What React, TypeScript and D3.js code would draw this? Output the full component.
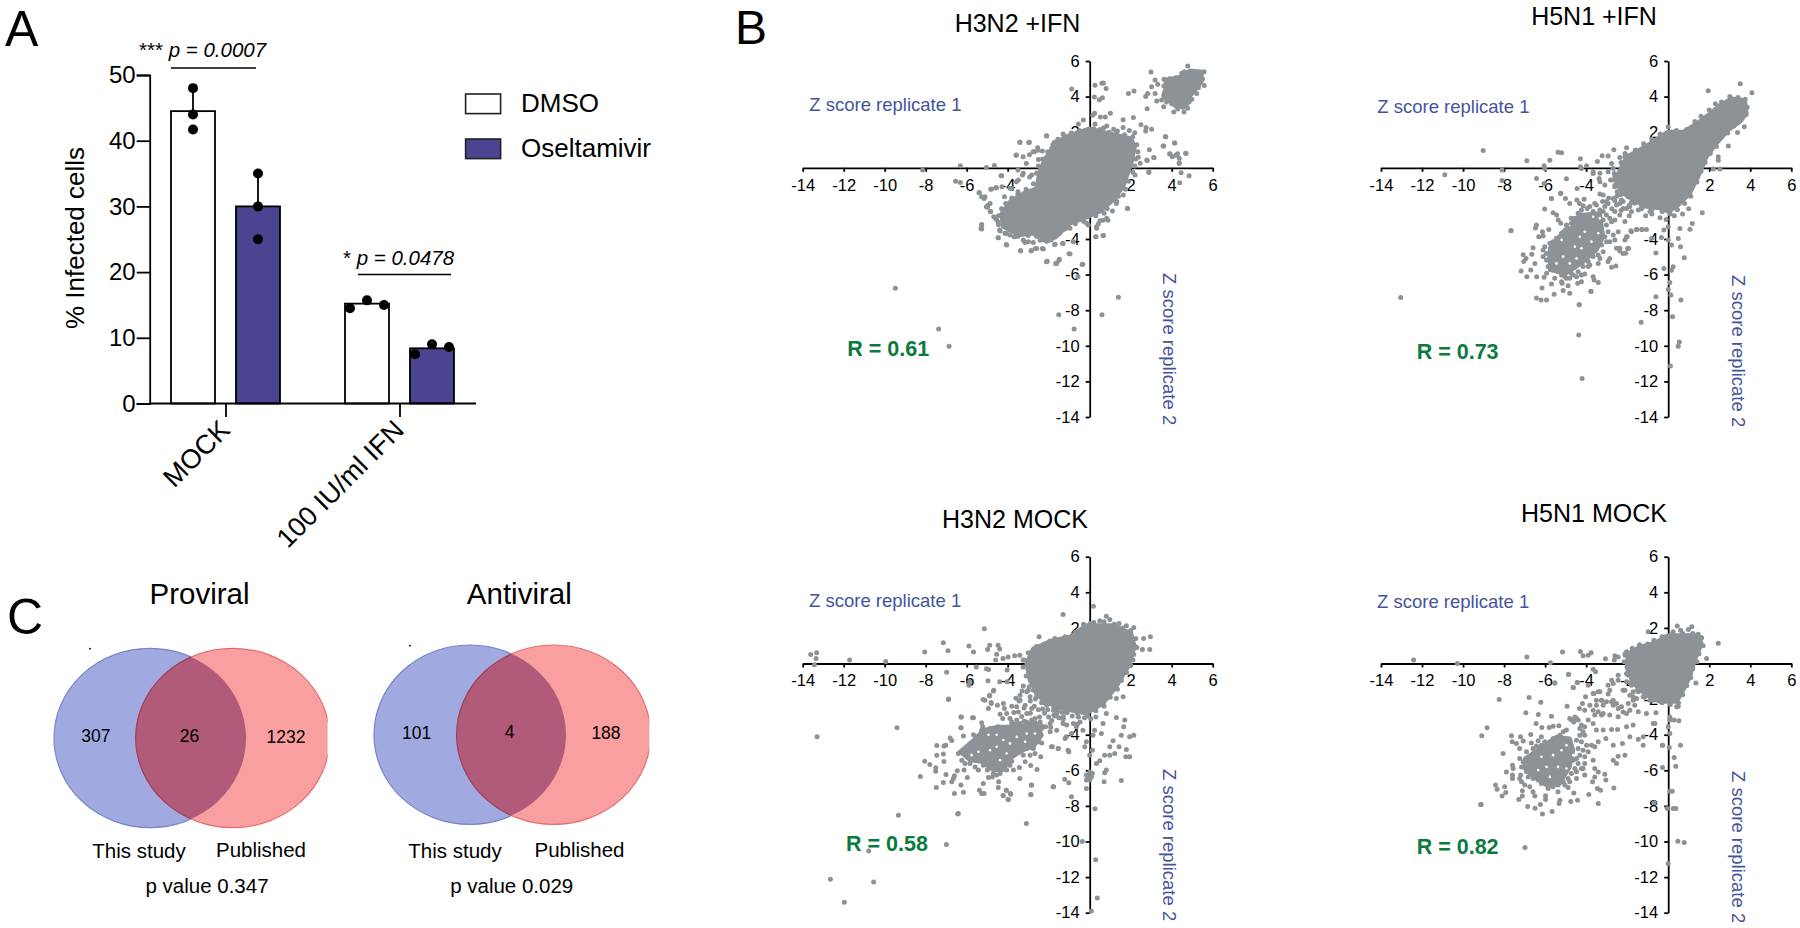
import React, { useEffect, useRef } from 'react';
import * as d3 from 'd3';

type Pt = [number, number];

// Panel A values
const infectionGroups = ['MOCK', '100 IU/ml IFN'];
const treatments = ['DMSO', 'Oseltamivir'];
const barMeans = [[44.5, 30], [15.2, 8.4]];
const barUpper = [[47.9, 35], [15.7, 9.1]];
const replicateDots = [
  [[48, 0], [44, 0], [41.7, 0]],
  [[35, 0], [30, 0], [25, 0]],
  [[14.5, -17], [15.7, 0], [15, 17]],
  [[7.5, -17], [9, 0], [8.6, 17]],
];
const percentTicks = [0, 10, 20, 30, 40, 50];
const zTicks = [-14, -12, -10, -8, -6, -4, -2, 2, 4, 6];

// Where the dots merge into solid grey they can't be told apart, so those
// zones are kept as traced outlines and only the separable dots are listed.
const h3n2IfnCore: Pt[] = [[-1.22,1.74],[0,2.21],[.65,2.02],[2.03,1.65],[2.2,1.18],[2.03,.24],[1.63,-1.07],[1.14,-1.82],[.49,-2.47],[-.08,-2.75],[-.98,-3.13],[-1.63,-3.88],[-2.11,-4.16],[-2.76,-3.69],[-3.41,-3.78],[-4.23,-3.31],[-4.31,-2.57],[-3.9,-1.91],[-3.25,-1.44],[-2.6,-1.16],[-2.44,-.13],[-2.11,.62],[-1.63,1.37]];
const h3n2IfnCluster: Pt[] = [[3.71,4.93],[4.41,5.12],[4.89,5.46],[5.46,5.4],[5.46,4.84],[5.22,4.47],[4.93,4.09],[4.73,3.53],[4.24,3.4],[3.84,3.81],[3.59,4.09],[3.71,4.47]];
const h3n2IfnRim: Pt[] = [[-1.3,1.9],[-.9,1.95],[-.5,2.1],[.2,2.2],[.5,2.15],[.95,2],[1.3,1.95],[1.7,1.85],[2.1,1.75],[2.3,1.3],[2.35,.9],[2.25,.5],[2.2,.1],[2.1,-.25],[1.9,-.75],[1.75,-1.2],[1.4,-1.6],[1.3,-2],[.85,-2.3],[.7,-2.55],[.3,-2.7],[-.3,-3],[-.7,-3.15],[-1.2,-3.4],[-1.5,-3.7],[-1.9,-4.05],[-2.4,-4.05],[-2.6,-3.85],[-3,-3.8],[-3.5,-3.85],[-3.9,-3.5],[-4.45,-3.2],[-4.45,-2.7],[-4.3,-2.3],[-4.1,-2],[-3.8,-1.7],[-3.5,-1.5],[-3.1,-1.2],[-2.75,-.9],[-2.6,-.3],[-2.5,.1],[-2.3,.5],[-2.05,.9],[-1.8,1.3],[-1.55,1.6],[3.7,4.95],[3.9,5],[3.62,4.6],[3.75,4.2],[3.62,3.95],[3.75,3.7],[4,3.6],[4.3,3.3],[4.55,3.4],[4.85,3.7],[5,4.2],[5.3,4.5],[5.5,5],[5.2,5.3],[4.2,5.05],[4.6,5.25]];
const h3n2IfnDots: Pt[] = [[2.99,5.38],[-.88,4.43],[.26,4.64],[.59,4.75],[.67,4.76],[.8,4.45],[.23,3.98],[.47,3.83],[.62,3.94],[1.89,4.18],[2.16,4.31],[2.73,4.01],[2.83,4.18],[3.02,4.56],[3.19,4.93],[3.32,4.69],[3.19,4.18],[3.27,3.75],[2.8,3.32],[3.63,4.97],[3.51,3.81],[4.49,5.31],[4.78,5.72],[4.62,5.4],[5.58,5.4],[5.59,4.62],[5.22,4.18],[4.98,3.85],[4.78,3.35],[4.6,3.13],[4.1,3.13],[3.61,3.43],[.24,3.06],[.15,2.95],[.52,2.85],[.76,2.85],[1.01,3.06],[-.31,2.68],[-.55,2.46],[.26,2.46],[.83,2.35],[.68,2.25],[1.63,2.7],[2.13,2.83],[2.5,2.42],[2.75,2.27],[3.02,2.16],[2.73,2.07],[1.17,2.16],[1.35,2.07],[1.63,2.27],[1.93,2.1],[2.2,1.97],[3.71,1.75],[4.15,1.39],[3.61,1.22],[2.91,1.02],[2.78,.44],[3.14,.57],[3.92,.79],[4.03,.62],[4.29,.79],[4.7,.81],[4.37,.53],[4.37,.29],[2.37,.59],[-3.4,1.45],[-2.94,1.43],[-3.58,.72],[-2.94,.74],[-2.1,1.8],[-2.7,.9],[-2.54,1.13],[-2.31,.94],[-2.5,.47],[-1.72,1.43],[-1.85,1.09],[-1.24,1.77],[-6.31,.11],[-8.15,-.13],[-5.04,.02],[-4.65,.13],[-6.54,-.75],[-6.31,-.82],[-4.29,-.45],[-5.4,-1.4],[-5.15,-1.72],[-5.27,-1.63],[-4.83,-1.2],[-4.55,-1.14],[-4.28,-1.07],[-4.96,-2.1],[-5.04,-2.19],[-4.85,-2.45],[-4.68,-2.75],[-4.55,-2.9],[-5.27,-3.22],[-5.3,-3.41],[-4.39,-3.5],[-4.47,-3.93],[-4.07,-4.31],[-4.07,-3.69],[-3.69,-3.88],[-3.37,-4.66],[-3.17,-4.16],[-2.85,-4.66],[-2.65,-4.53],[-2.31,-4.53],[-2.11,-5.28],[-1.66,-5.37],[-1.5,-5.19],[-1.01,-4.83],[-1.71,-4.31],[-1.3,-4.25],[.29,-3.88],[.65,-3.8],[1.84,-2.28],[.33,-3.31],[.65,-2.94],[.89,-2.94],[2.88,-.26],[2.81,.41],[4.39,-.84],[4.85,-.45],[4.46,-.28],[3.69,1.74],[3.58,1.22],[4.13,1.4],[3.9,.77],[4.2,.71],[4.68,.82],[4.36,.24],[3.12,.58],[-3.41,1.42],[-2.98,1.42],[-3.59,.71],[-2.11,1.78],[-4.33,-.44],[-4.78,-1.19],[-4.57,-1.1],[-3.89,-1.15],[-4.16,-1.62],[-3.48,-.69],[-3.24,-.31],[-2.83,-.4],[-5.38,-1.4],[-5.11,-1.62],[-4.86,-2],[-4.99,-2.22],[-4.83,-2.46],[-4.62,-2.8],[-4.46,-3.06],[-5.27,-3.18],[-5.27,-3.44],[-4.37,-3.55],[-4.46,-3.93],[-4.05,-4.34],[-4.13,-3.68],[-3.89,-3.78],[-3.64,-3.87],[-3.37,-4.66],[-2.86,-4.66],[-2.59,-4.53],[-2.26,-4.56],[-1.69,-4.3],[-1.32,-4.25],[-.96,-4.84],[-2.07,-5.25],[-1.61,-5.37],[-1.48,-5.14],[-.34,-5.42],[-.8,-4.15],[.31,-3.87],[.67,-3.81],[.34,-3.4],[.42,-3.16],[.5,-2.97],[.83,-2.84],[1.85,-2.28],[1.11,-2.43],[1.32,-1.9],[1.64,-1.53],[2.21,-.4],[2.46,.25],[2.89,-.22],[-.34,-2.93],[-.15,-3.12],[-.07,-3.21],[-.96,-3.4],[-1.2,-3.44],[-1.45,-3.49],[-2.42,-3.68],[-2.99,-4.15],[-2.75,-4.19],[-3.24,-4.05],[-3.15,-4.2],[-2.42,-4.05],[-3.25,.62],[-2.76,.9],[-2.52,.99],[-3.09,.24],[-3.5,-.13],[-3.28,-.41],[-2.93,-.51],[-3.58,-.79],[-3.82,-1.16],[-3.5,-1.35],[-9.48,-6.77],[-7.37,-9.05],[-6.86,-10.02],[-1.51,-8.25],[-.76,-9.06],[.6,-8.25],[1.4,-7.27],[-.37,-5.43],[-.57,-6.12]];

const h5n1IfnCore: Pt[] = [[-2.44,-.32],[-2.03,.62],[-1.14,1.18],[-.41,1.74],[0,2.02],[.73,2.02],[1.38,2.49],[2.03,3.05],[2.52,3.52],[3.09,3.9],[3.74,3.8],[3.82,3.05],[3.5,2.58],[2.93,2.12],[2.36,1.37],[1.87,.62],[1.46,-.51],[1.06,-1.44],[.41,-2.19],[0,-2.47],[-.41,-2.28],[-1.06,-2.19],[-1.71,-1.82],[-2.2,-1.44],[-2.52,-.88]];
const h5n1IfnCluster: Pt[] = [[-5.77,-4.52],[-5.12,-3.59],[-4.31,-2.65],[-3.33,-2.56],[-3.17,-3.87],[-3.5,-4.62],[-4.23,-5.37],[-4.96,-5.93],[-5.77,-5.74]];
const h5n1IfnGaps: Pt[] = [[-4.07,-3.59],[-3.33,-2.84],[-3.66,-2.75],[-5.2,-4.05],[-4.55,-4.43],[-4.23,-4.52],[-4.8,-5.37],[-5.12,-4.99],[-4.31,-3.87],[-3.74,-4.15],[-5.45,-5.37],[-4.47,-5.09],[-3.41,-3.68],[-4.8,-3.21]];
const h5n1IfnRim: Pt[] = [[-2.6,-.5],[-2.3,.3],[-2.1,.8],[-1.6,1],[-1.2,1.35],[-.8,1.6],[-.4,1.9],[0,2.3],[.4,2.1],[.9,2.15],[1.3,2.6],[1.6,2.9],[2,3.25],[2.3,3.6],[2.6,3.7],[3,4],[3.4,3.95],[3.75,3.85],[3.85,3.4],[3.8,3],[3.55,2.7],[3.2,2.35],[2.9,1.95],[2.6,1.75],[2.35,1.2],[2.05,.8],[1.8,.3],[1.6,-.2],[1.4,-.8],[1.1,-1.6],[.8,-2],[.45,-2.35],[.1,-2.6],[-.3,-2.45],[-.8,-2.35],[-1.3,-2.15],[-1.8,-1.95],[-2.3,-1.5],[-2.6,-1]];
const h5n1IfnDots: Pt[] = [[-7.67,-3.53],[-6.42,-3.21],[-6.47,-3.38],[-6.13,-3.59],[-6.31,-3.87],[-6.1,-3.83],[-5.82,-3.46],[-6.02,-2.31],[-5.69,-1.72],[-5.24,-1.43],[-5.01,-1.72],[-4.8,-2],[-5.61,-2.52],[-5.44,-2.65],[-5.36,-2.93],[-5.24,-3.12],[-4.73,-2.84],[-4.45,-1.81],[-4.33,-2],[-4.1,-1.77],[-4.15,-2.13],[-3.95,-2.28],[-3.5,-2.09],[-3.33,-2.37],[-3.09,-2.18],[-2.93,-2],[-2.6,-1.85],[-2.36,-2],[-2.03,-2.28],[-1.79,-2.46],[-1.46,-2.37],[-2.11,-3.02],[-2.36,-2.65],[-2.6,-2.93],[-2.85,-2.84],[-3.17,-2.93],[-1.79,-3.59],[-1.54,-3.46],[-1.26,-3.46],[-2.03,-3.87],[-2.11,-4.05],[-2.44,-3.59],[-2.68,-3.78],[-2.6,-4.05],[-2.85,-4.15],[-2.36,-4.52],[-2.52,-4.52],[-1.98,-4.54],[-2.07,-4.8],[-2.36,-4.67],[-2.85,-5.09],[-2.93,-5.27],[-2.55,-5.52],[-2.76,-5.59],[-3.33,-5.09],[-3.41,-5.37],[-3.66,-6.12],[-3.61,-6.3],[-3.41,-6.45],[-3.77,-6.94],[-4.34,-7.69],[-4.8,-7.05],[-5.12,-6.9],[-5.56,-7.11],[-5.93,-7.43],[-6.2,-7.43],[-6.42,-7.31],[-6.15,-6.75],[-5.69,-6.53],[-5.17,-6.49],[-4.88,-6.62],[-6.89,-6.12],[-7.17,-5.8],[-6.7,-5.74],[-6.5,-5.37],[-7.04,-5.27],[-6.93,-5.09],[-7.07,-4.88],[-6.65,-4.86],[-6.59,-4.49],[-6.02,-4.43],[-6.1,-4.99],[-5.93,-5.18],[-6.41,-6.12],[-6.05,-6.15],[-5.93,-5.93],[-5.53,-6.21],[-4.8,-6.21],[-4.47,-6.12],[-4.23,-6.02],[-4.07,-5.97],[-4.41,-6.49],[-4.23,-6.4],[-4.73,-5.93],[-3.9,-5.55],[-3.82,-5.46],[-13.04,-7.28],[-10.89,-.39],[-9.02,.97],[-8.1,-.13],[-8.1,-.71],[-7.66,-3.52],[-6.89,.39],[-6.05,.11],[-6.02,-.04],[-5.77,.43],[-5.37,.88],[-5.2,.84],[-6.42,-.6],[-6.05,-.88],[-5.69,-1.72],[-4.96,-.62],[-5.24,-1.44],[-4.28,.51],[-4.28,.06],[-3.98,.11],[-4.23,-.04],[-4.44,-1.16],[-3.66,-.32],[-3.45,.36],[-3.22,.67],[-2.93,.66],[-2.65,1.01],[-2.76,.24],[-2.68,-.04],[-2.63,-.32],[-3.37,-.6],[-3.33,-.79],[-2.81,-.69],[-3.09,-.97],[-2.03,1.12],[-2.11,.62],[-2.36,.58],[1.66,-2.53],[1.17,-3.13],[1.06,-3.45],[.57,-3.41],[.49,-3.97],[.6,-4.44],[.78,-5.06],[.24,-5.56],[.16,-5.75],[-.21,-5.66],[.08,-6.44],[0,-6.84],[.13,-7.15],[.62,-7.43],[-.6,-7.25],[.21,-8.37],[-1.32,-8.67],[.54,-9.78],[.49,-10.02],[.11,-11.14],[-4.34,-7.7],[-4.36,-9.4],[-4.2,-11.84],[-3.76,-6.95],[-.6,-4.78],[-.33,-3.91],[0,-4.06],[.16,-4.34],[0,-3.31],[-.81,-3.97],[-.21,-3.5],[-1.06,-3.46],[-1.54,-3.46],[-1.3,-3.46],[-1.82,-3.54],[-2,-3.88],[-1.93,-4.53],[-2.2,-4.81],[1.95,4.33],[3.51,4.72],[4.08,4.21],[3.71,2.3],[3.38,1.99],[2.93,1.22],[2.44,.62],[2.44,.43],[2.2,-.07],[2.52,-.07],[2.65,2.21],[-2.5,-1.6],[-2.2,-1.9],[-1.9,-2.1],[-1.6,-1.9],[-1.3,-2.3],[-2.9,-1.7],[-3.2,-1.9],[-2.75,-2.3],[-2.3,-2.4],[-1.9,-2.7],[-1.1,-2.7],[-.8,-2.6],[-.4,-2.8],[-.1,-2.9],[.3,-2.7],[.7,-2.6],[1,-2.3],[-6.1,-4.62],[-5.93,-4.81],[-5.77,-4.99],[-5.69,-5.27],[-5.85,-5.55],[-5.61,-5.65],[-5.37,-5.84],[-5.2,-6.02],[-5.04,-6.12],[-5.45,-3.96],[-5.61,-4.15],[-5.77,-4.24],[-5.2,-3.68],[-4.96,-3.21],[-4.72,-3.12],[-4.55,-2.84],[-4.39,-2.56],[-4.23,-2.37],[-3.82,-2.18],[-3.66,-2.46],[-3.17,-2.46],[-3.01,-2.65],[-2.76,-3.03],[-3.01,-3.21],[-2.93,-3.59],[-3.09,-3.87],[-3.01,-4.15],[-3.25,-4.34],[-3.17,-4.71],[-3.41,-4.9],[-3.66,-4.99],[-3.9,-5.27],[-4.15,-5.55],[-4.39,-5.84],[-4.63,-6.02],[-4.96,-6.21],[-5.2,-6.4],[-2.6,-2.46],[-2.2,-2.28],[-1.87,-2.18],[-1.63,-1.99],[-1.22,-2.18],[-.89,-2.46],[-2.52,-2.09],[-2.28,-1.81],[-2.68,-1.72],[-3.01,-1.9],[-3.17,-1.53],[-3.33,-1.47],[-3.58,-2],[-3.33,-.31],[-3.66,-.22],[-2.93,-.22],[-2.68,-.69],[-2.6,-1.06],[-2.49,-1.34],[-1.95,-1.62],[-1.54,-1.62],[-1.22,-1.43]];

const h3n2MockCore: Pt[] = [[-2.76,.84],[-1.79,1.31],[-.98,1.5],[-.16,2.15],[1.14,2.15],[2.03,1.69],[2.2,.94],[1.87,-.19],[1.3,-1.31],[.65,-2.25],[-.16,-2.81],[-.98,-2.62],[-1.63,-2.43],[-2.44,-1.87],[-2.93,-.94],[-3.09,0]];
const h3n2MockCluster: Pt[] = [[-5.19,-3.75],[-4.54,-3.56],[-3.56,-3.56],[-2.59,-3.37],[-2.34,-4.03],[-2.75,-4.68],[-3.24,-4.87],[-3.89,-5.34],[-4.21,-5.99],[-4.7,-5.99],[-5.27,-5.52],[-5.84,-5.43],[-6.33,-4.96],[-5.67,-4.31]];
const h3n2MockGaps: Pt[] = [[-3.89,-4.49],[-4.21,-4.3],[-4.54,-4.68],[-4.86,-4.87],[-3.56,-4.12],[-3.07,-3.93],[-4.05,-5.06],[-5.43,-4.96],[-4.94,-4],[-4.54,-4],[-3.15,-4.4],[-5.76,-5.15],[-2.67,-3.93],[-4.37,-5.43]];
const h3n2MockRim: Pt[] = [[-3.2,.2],[-3,.6],[-2.6,.95],[-2.2,1.1],[-1.7,1.4],[-1.2,1.5],[-.7,1.75],[-.3,2.2],[.2,2.3],[.7,2.35],[1.2,2.2],[1.6,2],[2,1.85],[2.25,1.4],[2.3,.9],[2.15,.5],[2,-.1],[1.8,-.5],[1.55,-.95],[1.35,-1.45],[1,-1.9],[.7,-2.4],[.3,-2.65],[-.1,-2.95],[-.6,-2.8],[-1.1,-2.75],[-1.7,-2.55],[-2.2,-2.2],[-2.6,-1.9],[-2.95,-1.3],[-3.1,-.7],[-3.25,-.2]];
const h3n2MockDots: Pt[] = [[-6.88,-2],[-6.28,-3],[-6.28,-3.61],[-6.16,-4.08],[-5.67,-3.05],[-5.67,-4],[-6.81,-4.18],[-6.73,-4.33],[-7.46,-4.61],[-7.46,-5.15],[-7.11,-4.64],[-7.02,-4.59],[-7.14,-5.09],[-7.11,-5.5],[-8.05,-5.49],[-7.8,-5.67],[-7.51,-5.86],[-7.51,-6.05],[-7.01,-6.24],[-8.26,-6.35],[-7.48,-6.97],[-7.14,-6.69],[-6.73,-6.65],[-6.65,-6.46],[-6.6,-6.31],[-6.46,-6.03],[-6.28,-6.83],[-6.6,-7.3],[-6.16,-7.23],[-5.97,-6.4],[-6.13,-5.99],[-6.41,-8.43],[-5.38,-7.12],[-5.27,-7.3],[-5.15,-7.3],[-5.19,-6.74],[-4.94,-6.4],[-4.75,-6.37],[-4.54,-6.27],[-4.44,-6.65],[-4.46,-6.97],[-4.07,-7.12],[-3.85,-7.34],[-4.21,-7.43],[-3.97,-7.64],[-3.41,-6.46],[-2.83,-6.83],[-2.86,-7.38],[-1.76,-6.93],[-2.57,-5.96],[-2.88,-5.73],[-3.15,-5.52],[-3.43,-5.84],[-3.72,-5.99],[-4.05,-5.99],[-3.8,-5.49],[-2.39,-5.24],[-2.91,-5.15],[-2.67,-5.06],[-3.24,-5.15],[-1.82,-4.68],[-1.53,-4.78],[-1.02,-4.96],[-1.2,-4.21],[-2.34,-4.46],[-2.5,-4.12],[-5.11,-2.06],[-4.89,-1.82],[-4.7,-1.54],[-4.81,-2.19],[-4.94,-2.53],[-4.5,-2.34],[-4.21,-2.25],[-4.16,-2.53],[-4.05,-2.81],[-4.37,-2.85],[-4.24,-3.09],[-3.89,-3.09],[-3.8,-3.28],[-3.56,-3.18],[-5.27,-3.33],[-5.22,-3.56],[-13.61,.51],[-13.32,.6],[-13.35,.28],[-13.43,-.07],[-11.71,.19],[-9.95,.11],[-8.05,.64],[-7.14,1.16],[-6.91,.71],[-6.98,-.49],[-6.89,-2.02],[-5.89,.99],[-5.67,.64],[-5.14,1.95],[-4.88,1.03],[-4.98,.79],[-4.47,1.03],[-4.39,.82],[-4.54,.52],[-5.53,-.19],[-5.04,-.3],[-4.93,-.34],[-5.89,-1.22],[-5.85,-1.03],[-4.96,-.97],[-4.59,.19],[-4.23,.28],[-3.98,.37],[-3.66,.43],[-3.41,.47],[-3.25,.19],[-4.03,-.37],[-4.03,-1.03],[-4.39,-1.03],[-4.68,-1.5],[-5.2,-2.02],[-4.88,-1.78],[-4.8,-2.25],[-6.26,-3],[-5.72,-3.05],[-6.28,-3.61],[-13.3,-4.12],[-9.4,-3.61],[-9.33,-8.52],[-10.78,-10.54],[-6.99,-10.17],[-6.44,-8.45],[-3.09,-8.99],[-12.65,-12.12],[-10.54,-12.28],[-11.97,-13.41],[-.36,-10],[.29,-11.03],[.37,-13.18],[.08,-13.91],[.26,-8.16],[-.89,-7.49],[-1.79,-6.93],[-2.85,-6.84],[-2.88,-7.36],[-3.98,-7.64],[-4.23,-7.42],[-4.07,-7.12],[-3.87,-7.3],[-1.3,2.75],[-2.47,1.5],[-1.95,1.27],[.18,3.22],[.03,2.25],[.49,2.4],[.81,2.66],[.98,2.47],[1.43,2.25],[1.79,2.12],[2.15,2.02],[2.96,1.5],[2.63,1.4],[2.57,.79],[2.93,.79],[2.24,.94],[2.11,.19],[1.54,-6.57],[.7,-6.65],[.81,-5.99],[.73,-6.14],[.49,-5.47],[.33,-5.62],[.73,-5.15],[.98,-5.15],[1.22,-5.06],[1.43,-4.68],[1.79,-4.83],[1.76,-5.24],[1.95,-5.24],[.98,-4.68],[1.14,-4.34],[1.54,-4.03],[1.95,-4.12],[2.15,-4.03],[1.71,-3.18],[1.66,-3.56],[1.3,-3.03],[.81,-2.81],[.65,-3.37],[.24,-3.75],[.57,-3.93],[.16,-4.03],[-.16,-4.4],[-.24,-4.68],[.13,-4.87],[0,-5.15],[.08,-6.37],[-.08,-6.37],[-.16,-6.27],[0,-6.09],[.13,-6.18],[-.16,-6.55],[0,-6.55],[-.16,-7.02],[-1.22,-6.5],[-1.02,-6.7],[-1.14,-4.12],[-1.06,-4.87],[-1.87,-4.68],[-1.54,-4.78],[-.65,-3.56],[-.33,-3.75],[-.89,-3.93],[-1.3,-3.37],[1.3,-1.97],[1.63,-1.87],[-6.16,-4.96],[-6.41,-5.06],[-6.24,-5.43],[-6.08,-5.62],[-5.84,-5.62],[-5.59,-5.81],[-5.43,-5.99],[-5.51,-4.49],[-5.35,-4.21],[-5.11,-3.93],[-5.27,-3.75],[-4.86,-3.65],[-4.46,-3.56],[-4.05,-3.65],[-3.8,-3.46],[-3.4,-3.37],[-3.07,-3.28],[-2.83,-3.18],[-2.34,-3.65],[-2.5,-4.4],[-2.75,-4.78],[-3.15,-4.78],[-3.56,-4.96],[-3.89,-5.43],[-4.13,-5.71],[-4.37,-6.18],[-4.7,-6.18],[-4.99,-5.99],[-5.19,-5.71],[-3.89,-5.71],[-1.93,-3.84],[-1.61,-3.75],[-1.12,-3.46],[-.8,-3.37],[-.47,-3.28],[-3.4,-2.06],[-3.56,-2.43],[-3.48,-2.72],[-3.32,-2.98],[-3.07,-2.81],[-2.67,-3.09],[-2.42,-3.28],[-3.15,-2.34],[-2.83,-2.53],[-1.93,-3.37],[-1.61,-2.81],[-1.28,-3],[-2.91,-1.87],[-3.4,-1.78],[-3.07,-1.59],[-3.24,-1.27],[-2.59,-1.69],[-2.34,-1.97],[-2.1,-2.34],[-1.77,-2.62],[-3.6,-1.95],[-3.3,-1.55],[-3.45,-2.1],[-3,-1.5],[-2.75,-1.5],[-2.65,-2],[-2.35,-2.2],[-2.15,-2.05],[-1.95,-2.25],[-1.75,-2.45],[-1.55,-2.65],[-1.35,-2.75],[-1.15,-2.75],[-.85,-2.95],[-.55,-3],[-.25,-3.05],[.05,-3.1],[.3,-3],[-1.7,-2.95],[-1.5,-3.05],[-2.2,-2.8],[-2,-3],[-1.85,-3.2],[-2.65,-3.35],[-2.9,-3.4],[-3.2,-3.25],[-3.6,-3.4],[-2.35,-3.5],[-2.15,-3.55],[-1.9,-3.6],[-3.8,-2.4],[-3.7,-2.75],[-2.9,-2.1],[-2.7,-2.4],[-2.5,-2.6],[-2.3,-2.55],[-2.9,-2.8],[-3.2,-2.5],[-2.05,-2.6],[-1.75,-2.9],[-2.45,-3],[-1.3,-3.15],[-.6,-3.4]];

const h5n1MockCore: Pt[] = [[-1.95,.56],[-1.38,.94],[-.73,1.12],[0,1.59],[1.46,1.59],[1.63,1.12],[1.3,.19],[1.06,-.75],[.65,-1.69],[.41,-2.15],[-.41,-2.15],[-1.06,-1.78],[-1.71,-1.12],[-2.03,-.19]];
const h5n1MockCluster: Pt[] = [[-6.99,-5.34],[-6.26,-4.78],[-5.45,-4.12],[-4.8,-4.21],[-4.63,-4.87],[-4.8,-5.81],[-5.28,-6.74],[-5.93,-6.84],[-6.67,-6.27],[-6.99,-5.9]];
const h5n1MockGaps: Pt[] = [[-4.96,-5.9],[-5.77,-6.37],[-5.37,-5.81],[-5.93,-5.81],[-6.34,-5.99],[-4.63,-5.15],[-5.2,-4.87],[-5.61,-5.15],[-4.96,-4.59],[-6.18,-5.24]];
const h5n1MockRim: Pt[] = [[-2.15,.1],[-2.1,.55],[-1.75,.85],[-1.4,1.05],[-1,1.1],[-.7,1.3],[-.3,1.5],[.2,1.65],[.7,1.7],[1.2,1.68],[1.6,1.45],[1.7,1],[1.5,.55],[1.4,.1],[1.2,-.3],[1.1,-.8],[.9,-1.25],[.7,-1.75],[.5,-2.2],[.1,-2.3],[-.3,-2.2],[-.7,-2.05],[-1.15,-1.9],[-1.5,-1.5],[-1.85,-1.1],[-2,-.6]];
const h5n1MockDots: Pt[] = [[-8.24,-2.02],[-6.78,-1.91],[-6.21,-2.17],[-6.94,-2.77],[-6.33,-2.86],[-5.69,-2.96],[-6.44,-3.37],[-6.16,-3.6],[-5.8,-3.6],[-5.61,-3.52],[-5.33,-3.5],[-5.53,-1.09],[-4.86,-.62],[-4.63,-1.35],[-4.42,-1.07],[-4.93,-2.4],[-4.33,-2.53],[-4.03,-1.87],[-4.18,-2.25],[-4.07,-2.62],[-3.82,-2.34],[-3.62,-1.68],[-3.33,-1.59],[-2.93,-1.22],[-2.93,-1.72],[-3.5,-2.06],[-3.17,-2.34],[-2.76,-2.15],[-2.52,-2.25],[-2.28,-2.43],[-1.95,-2.25],[-1.71,-2.06],[-2.03,-2.81],[-2.44,-2.99],[-2.85,-2.9],[-3.17,-2.81],[-3.41,-2.71],[-3.58,-2.9],[-3.66,-3.37],[-3.9,-3.18],[-4.47,-3.09],[-4.72,-3.18],[-4.23,-3.46],[-4.07,-3.56],[-3.5,-3.74],[-3.17,-3.74],[-2.76,-3.71],[-2.47,-3.71],[-2.03,-3.56],[-1.71,-3.46],[-1.46,-2.71],[-1.06,-2.81],[-.6,-2.77],[-.73,-3.37],[-3.04,-4.21],[-2.68,-4.59],[-2.23,-4.5],[-1.87,-4.12],[-1.46,-4.26],[-1.22,-4.12],[-1.22,-4.59],[-.28,-4.59],[-2.11,-5.15],[-2.44,-5.21],[-2.68,-5.43],[-2.52,-5.62],[-3.41,-4.4],[-3.58,-4.68],[-3.9,-4.96],[-3.66,-5.43],[-4.07,-5.62],[-3.58,-5.9],[-3.41,-6.09],[-3.09,-6.22],[-3.04,-6.55],[-3.58,-6.37],[-3.69,-6.65],[-2.65,-7],[-3.45,-7.02],[-3.3,-7.12],[-3.41,-7.87],[-3.87,-7.36],[-4.42,-7.68],[-4.75,-7.75],[-4.6,-7.27],[-5.28,-7.68],[-5.32,-7.87],[-5.66,-8.31],[-6.13,-8.46],[-6.23,-7.92],[-6.49,-8.13],[-6.85,-8.03],[-9.12,-7.92],[-9.09,-4.06],[-8.83,-3.61],[-8.05,-5.06],[-7.64,-4.06],[-7.61,-4.4],[-7.4,-4.49],[-7.2,-4.12],[-7.07,-4.36],[-6.7,-3.99],[-7.24,-4.77],[-6.67,-4.46],[-6.34,-4.34],[-6.18,-4.12],[-7.59,-5.71],[-7.56,-5.9],[-7.89,-6.09],[-7.59,-6.27],[-7.59,-6.46],[-7.19,-6.27],[-7.24,-6.46],[-7.15,-6.65],[-6.99,-6.83],[-6.75,-6.93],[-8.42,-6.83],[-8.34,-7.06],[-7.97,-6.93],[-7.92,-7.25],[-8.1,-7.45],[-7.11,-7.15],[-7.11,-7.45],[-7.28,-7.64],[-6.59,-7.21],[-6.5,-7.45],[-5.98,-7.43],[-5.98,-7.64],[-5.85,-7.02],[-5.37,-7.21],[-4.88,-6.97],[-4.8,-6.65],[-4.47,-6.46],[-4.07,-6.27],[-4.23,-5.9],[-12.41,.19],[-10.28,0],[-6.89,.37],[-5.74,.04],[-5.15,.64],[-4.28,.67],[-4.15,.43],[-3.9,.47],[-3.76,.6],[-3.06,.26],[-2.6,.43],[-2.44,.37],[-2.63,.19],[-2.03,.66],[-2.1,.47],[-3.66,-.32],[-3.54,-.47],[-4.86,-.6],[-5.53,-1.09],[-4.44,-1.07],[-4.63,-1.35],[-3.9,-1.22],[-2.76,-.94],[-2.44,-.66],[-2.03,-.56],[-2.85,-1.5],[-1.71,-1.87],[-2.2,-1.5],[-2.68,-2.06],[-3.24,-2.06],[-3.66,-1.69],[-3.41,-1.59],[2.44,1.14],[1.87,.28],[.44,2.1],[1.15,2.06],[.6,1.87],[.98,1.91],[.24,1.78],[-.11,1.5],[-.98,1.78],[1.46,1.65],[1.63,1.44],[1.35,-1.09],[.49,-2.4],[.41,-2.43],[.08,-3],[.29,-3.18],[.52,-3.22],[.08,-3.18],[0,-3.56],[.08,-3.93],[-.65,-3.37],[.6,-4.59],[-.28,-4.59],[.05,-4.72],[.29,-5.28],[.37,-5.77],[-.28,-5.84],[.08,-7.17],[.2,-7.17],[-.68,-7.83],[-.05,-8.15],[.24,-8.15],[.37,-8.15],[.47,-9.98],[.78,-10.06],[0,-11.24],[-6.98,-10.34],[-9.14,-7.92],[-4.8,-3.09],[-4.6,-3.28],[-4.39,-3.18],[-4.31,-3.65],[-4.15,-3.84],[-4.07,-4.03],[-4.31,-4.03],[-5.12,-3.84],[-4.96,-3.74],[-5.28,-4.03],[-5.61,-4.21],[-5.85,-4.49],[-6.02,-4.4],[-5.77,-4.4],[-4.47,-4.31],[-4.23,-4.4],[-3.98,-4.59],[-3.74,-4.59],[-4.39,-4.77],[-4.15,-4.87],[-4.31,-5.15],[-4.07,-5.24],[-4.47,-5.34],[-4.63,-5.43],[-4.39,-5.62],[-4.15,-5.9],[-4.55,-5.9],[-4.72,-6.18],[-4.47,-6.08],[-4.88,-6.46],[-5.12,-6.65],[-5.04,-6.83],[-5.37,-6.83],[-5.61,-6.93],[-5.85,-6.93],[-6.18,-6.74],[-6.34,-6.55],[-6.59,-6.46],[-6.83,-6.37],[-6.91,-6.08],[-7.15,-5.81],[-7.07,-5.52],[-7.24,-5.34],[-6.91,-4.96],[-6.59,-4.77],[-6.42,-4.64],[-6.18,-4.59],[-4.55,-3],[-3.25,-2.9],[-3.66,-2.62],[-3.5,-2.34],[-3.25,-2.06],[-3.01,-2.15],[-2.68,-2.34],[-2.44,-2.53],[-2.2,-2.72],[-1.87,-2.62],[-1.63,-2.34],[-1.54,-1.97],[-1.87,-1.78],[-2.11,-1.5],[-1.71,-1.59],[-1.46,-1.59],[-1.22,-1.87],[-.89,-2.06],[-2.68,-1.12],[-2.44,-.94],[-2.03,-1.03],[-1.79,-1.22]];

const scatterTitles = ['H3N2 +IFN', 'H5N1 +IFN', 'H3N2 MOCK', 'H5N1 MOCK'];
const correlations = ['R = 0.61', 'R = 0.73', 'R = 0.58', 'R = 0.82'];
const scatterDots = [
  [...h3n2IfnDots, ...h3n2IfnRim],
  [...h5n1IfnDots, ...h5n1IfnRim],
  [...h3n2MockDots, ...h3n2MockRim],
  [...h5n1MockDots, ...h5n1MockRim],
];
const scatterSolids = [
  [h3n2IfnCore, h3n2IfnCluster],
  [h5n1IfnCore, h5n1IfnCluster],
  [h3n2MockCore, h3n2MockCluster],
  [h5n1MockCore, h5n1MockCluster],
];
// white flecks left between the dots inside the lower clusters
const scatterGaps: Pt[][] = [[], h5n1IfnGaps, h3n2MockGaps, h5n1MockGaps];

// Panel C counts: only study, shared, only published
const vennTitles = ['Proviral', 'Antiviral'];
const vennCounts = [[307, 26, 1232], [101, 4, 188]];
const vennPvalues = ['p value 0.347', 'p value 0.029'];

const SANS = '"Liberation Sans", Arial, sans-serif';
const GREY = '#8c9295';
const PURPLE = '#4b4490';
const LABEL_BLUE = '#43549b';

function drawBars(svg: any) {
  const y = d3.scaleLinear().domain([0, 50]).range([403.5, 75]);
  const group = d3.scalePoint<string>().domain(infectionGroups).range([225.5, 399.5]);
  const bar = d3.scaleBand<string>().domain(treatments).range([-54.5, 54.5]).paddingInner(0.323);

  const g = svg.append('g');
  infectionGroups.forEach((name, i) => {
    treatments.forEach((t, j) => {
      const x = group(name)! + bar(t)!;
      const cx = x + bar.bandwidth() / 2;
      g.append('rect').attr('x', x).attr('y', y(barMeans[i][j]))
        .attr('width', bar.bandwidth()).attr('height', y(0) - y(barMeans[i][j]))
        .attr('fill', j === 0 ? '#fff' : PURPLE).attr('stroke', '#000').attr('stroke-width', 1.8);
      g.append('line').attr('x1', cx).attr('x2', cx)
        .attr('y1', y(barMeans[i][j])).attr('y2', y(barUpper[i][j]))
        .attr('stroke', '#000').attr('stroke-width', 1.8);
      g.selectAll(null).data(replicateDots[i * 2 + j]).enter().append('circle')
        .attr('cx', (d: number[]) => cx + d[1]).attr('cy', (d: number[]) => y(d[0]))
        .attr('r', 5).attr('fill', '#000');
    });
  });

  const yAxis = svg.append('g').attr('transform', 'translate(149.7,0)')
    .call(d3.axisLeft(y).tickValues(percentTicks).tickSize(13).tickPadding(1));
  yAxis.selectAll('line,path').attr('stroke', '#000').attr('stroke-width', 1.8);
  yAxis.selectAll('text').attr('font-family', SANS).attr('font-size', 24).attr('fill', '#000');

  const xAxis = svg.append('g').attr('transform', `translate(0,${y(0)})`)
    .call(d3.axisBottom(group).tickSize(13.6).tickFormat(() => ''));
  xAxis.select('path').remove();
  xAxis.selectAll('line').attr('stroke', '#000').attr('stroke-width', 1.8);
  svg.append('line').attr('x1', 149).attr('x2', 476).attr('y1', y(0)).attr('y2', y(0))
    .attr('stroke', '#000').attr('stroke-width', 1.8);

  infectionGroups.forEach(name => {
    svg.append('text').attr('text-anchor', 'end')
      .attr('transform', `translate(${group(name)! + 6},${y(0) + 28}) rotate(-45)`)
      .attr('font-family', SANS).attr('font-size', 27).text(name);
  });

  svg.append('text').attr('transform', 'translate(84,238) rotate(-90)').attr('text-anchor', 'middle')
    .attr('font-family', SANS).attr('font-size', 26).text('% Infected cells');

  // significance brackets
  const sig = [
    { stars: '***', p: 'p = 0.0007', x: 139, base: 57, x1: 171, x2: 256, ly: 68 },
    { stars: '*', p: 'p = 0.0478', x: 343, base: 264.5, x1: 358, x2: 451, ly: 274.5 },
  ];
  sig.forEach(s => {
    const t = svg.append('text').attr('x', s.x).attr('y', s.base)
      .attr('font-family', SANS).attr('font-size', 20.5);
    t.append('tspan').text(s.stars + ' ');
    t.append('tspan').attr('font-style', 'italic').text(s.p);
    svg.append('line').attr('x1', s.x1).attr('x2', s.x2).attr('y1', s.ly).attr('y2', s.ly)
      .attr('stroke', '#000').attr('stroke-width', 1.6);
  });

  // legend
  treatments.forEach((t, i) => {
    const top = 94 + i * 45;
    svg.append('rect').attr('x', 465.6).attr('y', top).attr('width', 35).attr('height', 19.6)
      .attr('fill', i === 0 ? '#fff' : PURPLE).attr('stroke', '#222').attr('stroke-width', 1.6);
    svg.append('text').attr('x', 521).attr('y', top + 18).attr('font-family', SANS)
      .attr('font-size', 26).text(t);
  });
}

function drawScatter(svg: any, i: number) {
  const layoutX = [[802.7, 1212.7], [1381, 1791.3]][i % 2];
  const layoutY = i < 2 ? [417, 61] : [912.7, 556.7];
  const x = d3.scaleLinear().domain([-14, 6]).range(layoutX);
  const y = d3.scaleLinear().domain([-14, 6]).range(layoutY);
  const g = svg.append('g');

  const xAxis = g.append('g').attr('transform', `translate(0,${y(0)})`)
    .call(d3.axisBottom(x).tickValues(zTicks).tickSize(4).tickPadding(7).tickSizeOuter(0).tickFormat(d3.format('d') as any));
  const yAxis = g.append('g').attr('transform', `translate(${x(0)},0)`)
    .call(d3.axisLeft(y).tickValues(zTicks).tickSize(4).tickPadding(6).tickSizeOuter(0).tickFormat(d3.format('d') as any));
  [xAxis, yAxis].forEach(a => {
    a.selectAll('line,path').attr('stroke', '#000').attr('stroke-width', 1.8);
    a.selectAll('text').attr('font-family', SANS).attr('font-size', 16.5).attr('fill', '#000')
      .text(function (this: any) { return this.textContent.replace('−', '-'); });
  });

  const outline = d3.line<Pt>().x(d => x(d[0])).y(d => y(d[1])).curve(d3.curveLinearClosed);
  g.selectAll(null).data(scatterSolids[i]).enter().append('path')
    .attr('d', (d: Pt[]) => outline(d)).attr('fill', GREY)
    .attr('stroke', GREY).attr('stroke-width', 4).attr('stroke-linejoin', 'round');
  g.selectAll(null).data(scatterGaps[i]).enter().append('circle')
    .attr('cx', (d: Pt) => x(d[0])).attr('cy', (d: Pt) => y(d[1])).attr('r', 1.3).attr('fill', '#fff');
  g.selectAll(null).data(scatterDots[i]).enter().append('circle')
    .attr('cx', (d: Pt) => x(d[0])).attr('cy', (d: Pt) => y(d[1])).attr('r', 2.5).attr('fill', GREY);

  const titlePos = [[1017.5, 32], [1594, 25], [1015, 527.7], [1594, 522.3]][i];
  g.append('text').attr('x', titlePos[0]).attr('y', titlePos[1]).attr('text-anchor', 'middle')
    .attr('font-family', SANS).attr('font-size', 25).text(scatterTitles[i]);

  const rep1 = [[809.3, 111], [1377.3, 113], [809, 606.7], [1377, 608.3]][i];
  g.append('text').attr('x', rep1[0]).attr('y', rep1[1]).attr('fill', LABEL_BLUE)
    .attr('font-family', SANS).attr('font-size', 18.5).text('Z score replicate 1');
  const rep2 = [[1163, 273], [1731.7, 275], [1163, 769], [1731.7, 771]][i];
  g.append('text').attr('transform', `translate(${rep2[0]},${rep2[1]}) rotate(90)`).attr('fill', LABEL_BLUE)
    .attr('font-family', SANS).attr('font-size', 18.5).text('Z score replicate 2');

  const rPos = [[847.3, 356], [1416.7, 358.7], [846, 851], [1416.7, 854]][i];
  g.append('text').attr('x', rPos[0]).attr('y', rPos[1]).attr('fill', '#0b7a3e')
    .attr('font-family', SANS).attr('font-size', 21.5).attr('font-weight', 'bold').text(correlations[i]);
}

function drawVenn(svg: any, i: number) {
  const cy = [738, 734.7][i];
  const blueX = [150, 470][i];
  const redX = [232.7, 553.6][i];
  const cropRight = [327.6, 649.2][i];
  const rx = 96, redRx = 97, ry = 89.7;
  const clipId = `venn-overlap-${i}`;
  const cropId = `venn-crop-${i}`;
  svg.append('clipPath').attr('id', clipId).append('ellipse')
    .attr('cx', blueX).attr('cy', cy).attr('rx', rx).attr('ry', ry);
  svg.append('clipPath').attr('id', cropId).append('rect')
    .attr('x', blueX - rx - 3).attr('y', cy - ry - 3).attr('width', cropRight - blueX + rx + 3).attr('height', ry * 2 + 6);

  const g = svg.append('g').attr('clip-path', `url(#${cropId})`);
  g.append('ellipse').attr('cx', blueX).attr('cy', cy).attr('rx', rx).attr('ry', ry)
    .attr('fill', '#a0aae0').attr('stroke', '#7984cb').attr('stroke-width', 1.2);
  g.append('ellipse').attr('cx', redX).attr('cy', cy).attr('rx', redRx).attr('ry', ry)
    .attr('fill', '#fa9f9f').attr('stroke', '#e46f73').attr('stroke-width', 1.2);
  g.append('ellipse').attr('cx', redX).attr('cy', cy).attr('rx', redRx).attr('ry', ry)
    .attr('clip-path', `url(#${clipId})`).attr('fill', '#b15a79').attr('stroke', '#9a4363').attr('stroke-width', 1.2);

  const numX = [[95.8, 189.5, 286], [416.7, 509.5, 606]][i];
  const numY = [[742, 741.7, 743], [739, 737.7, 739]][i];
  vennCounts[i].forEach((n, k) => {
    svg.append('text').attr('x', numX[k]).attr('y', numY[k]).attr('text-anchor', 'middle')
      .attr('font-family', SANS).attr('font-size', 17.5).text(n);
  });

  svg.append('text').attr('x', [199.5, 519.3][i]).attr('y', 604).attr('text-anchor', 'middle')
    .attr('font-family', SANS).attr('font-size', 29.5).text(vennTitles[i]);
  svg.append('text').attr('x', [139, 455][i]).attr('y', 857.5).attr('text-anchor', 'middle')
    .attr('font-family', SANS).attr('font-size', 20.5).text('This study');
  svg.append('text').attr('x', [261, 579.5][i]).attr('y', 857).attr('text-anchor', 'middle')
    .attr('font-family', SANS).attr('font-size', 20.5).text('Published');
  svg.append('text').attr('x', [207, 511.7][i]).attr('y', 892.7).attr('text-anchor', 'middle')
    .attr('font-family', SANS).attr('font-size', 20.5).text(vennPvalues[i]);
  svg.append('circle').attr('cx', [90, 410][i]).attr('cy', [648.7, 645.7][i]).attr('r', 0.9).attr('fill', '#000');
}

export default function App() {
  const ref = useRef<SVGSVGElement>(null);

  useEffect(() => {
    const svg = d3.select(ref.current);
    svg.selectAll('*').remove();

    drawBars(svg);
    scatterTitles.forEach((_, i) => drawScatter(svg, i));
    vennTitles.forEach((_, i) => drawVenn(svg, i));

    [['A', 5, 46, 50], ['B', 735, 44, 48], ['C', 7, 634, 50]].forEach(d => {
      svg.append('text').attr('x', d[1]).attr('y', d[2]).attr('font-family', SANS)
        .attr('font-size', d[3]).text(d[0] as string);
    });
  }, []);

  return (
    <svg ref={ref} width={1800} height={928}
      style={{ position: 'absolute', left: 0, top: 0, display: 'block', background: '#fff' }} />
  );
}
